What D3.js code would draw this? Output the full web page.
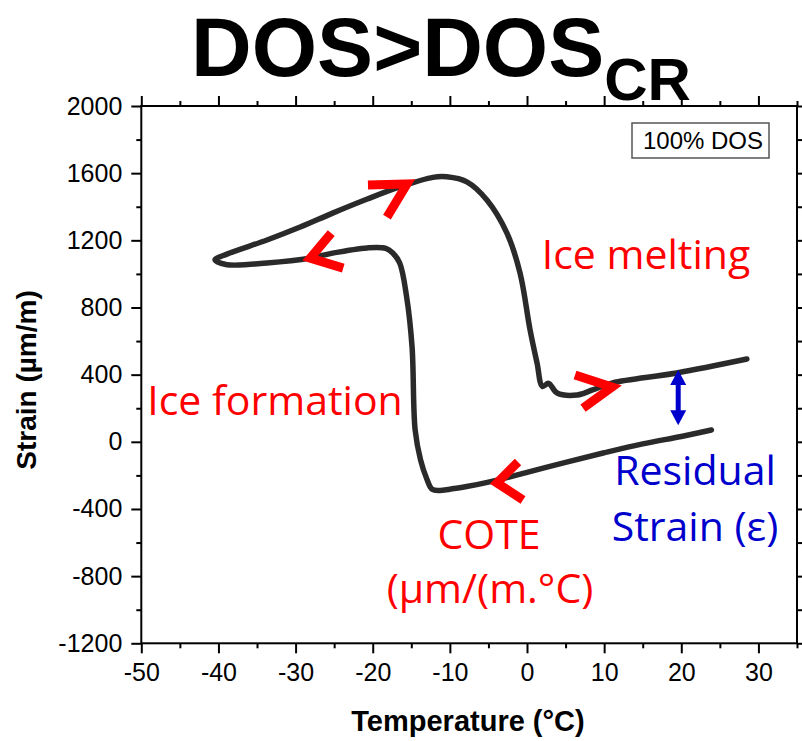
<!DOCTYPE html>
<html>
<head>
<meta charset="utf-8">
<script src="https://cdn.jsdelivr.net/npm/d3@7"></script>
<style>
  html, body { margin: 0; padding: 0; background: #fff; }
  svg { display: block; }
</style>
</head>
<body>
<svg id="chart" width="802" height="741"></svg>
<script>
// Freeze–thaw strain loop (temperature °C, strain µm/m), in measurement order:
// cooling from room temperature, ice formation, down to -40 °C, then heating and ice melting.
const temperature = [
  23.9, 20.0, 15.0, 10.0, 5.0, 0.0, -5.0, -8.0, -10.0, -11.3, -12.3, -13.0, -13.8, -14.5,
  -14.9, -15.6, -16.5, -17.4, -18.3, -20.7, -25.2, -28.1, -33.7, -38.9, -40.45,
  -38.9, -33.7, -29.4, -25.2, -20.7, -16.5, -12.2, -10.4, -7.8, -5.2, -2.6, -0.9,
  0.4, 1.3, 2.0, 2.8, 3.9, 6.5, 8.5, 11.1, 19.4, 28.5
];
const strain = [
  70, 32, -12, -65, -122, -182, -240, -268, -282, -290, -283, -220, -108, 70,
  565, 862, 1065, 1125, 1152, 1155, 1124, 1094, 1065, 1055, 1083,
  1118, 1202, 1279, 1362, 1446, 1518, 1575, 1578, 1548, 1440, 1243, 1005,
  666, 470, 330, 348, 291, 279, 309, 351, 410, 493
];

const xTicks = [-50, -40, -30, -20, -10, 0, 10, 20, 30];
const xMinor = [-45, -35, -25, -15, -5, 5, 15, 25, 35];
const yTicks = [-1200, -800, -400, 0, 400, 800, 1200, 1600, 2000];
const yMinor = [-1000, -600, -200, 200, 600, 1000, 1400, 1800];

const svg = d3.select("#chart");
const x = d3.scaleLinear().domain([-50, 35]).range([141.3, 797]);
const y = d3.scaleLinear().domain([-1200, 2000]).range([643.3, 106]);

const sans = "'Liberation Sans', Arial, sans-serif";
const label = "'Open Sans', sans-serif";

// Title
svg.append("text")
  .attr("x", 441).attr("y", 76)
  .attr("text-anchor", "middle")
  .attr("font-family", sans).attr("font-weight", "bold")
  .attr("font-size", 84)
  .call(t => {
    t.append("tspan").text("DOS>DOS");
    t.append("tspan").attr("font-size", 60).attr("dy", 24).text("CR");
  });

// Axes: labelled major ticks, unlabelled minor ticks, mirrored on top/right
function styleAxis(g) {
  g.select(".domain").remove();
  g.selectAll(".tick line").attr("stroke", "#000").attr("stroke-width", 2);
  g.selectAll(".tick text").attr("font-family", sans).attr("font-size", 25).attr("fill", "#000");
}
const fmt = d => String(d);
const h0 = y.range()[0], h1 = y.range()[1];
const w0 = x.range()[0], w1 = x.range()[1];

svg.append("g").attr("transform", `translate(0,${h0})`)
  .call(d3.axisBottom(x).tickValues(xTicks).tickSize(10).tickPadding(10).tickFormat(fmt)).call(styleAxis);
svg.append("g").attr("transform", `translate(0,${h0})`)
  .call(d3.axisBottom(x).tickValues(xMinor).tickSize(5).tickFormat("")).call(styleAxis);
svg.append("g").attr("transform", `translate(0,${h1})`)
  .call(d3.axisTop(x).tickValues(xTicks).tickSize(10).tickFormat("")).call(styleAxis);
svg.append("g").attr("transform", `translate(0,${h1})`)
  .call(d3.axisTop(x).tickValues(xMinor).tickSize(5).tickFormat("")).call(styleAxis);

svg.append("g").attr("transform", `translate(${w0},0)`)
  .call(d3.axisLeft(y).tickValues(yTicks).tickSize(10).tickPadding(9).tickFormat(fmt)).call(styleAxis);
svg.append("g").attr("transform", `translate(${w0},0)`)
  .call(d3.axisLeft(y).tickValues(yMinor).tickSize(5).tickFormat("")).call(styleAxis);
svg.append("g").attr("transform", `translate(${w1},0)`)
  .call(d3.axisRight(y).tickValues(yTicks).tickSize(10).tickFormat("")).call(styleAxis);
svg.append("g").attr("transform", `translate(${w1},0)`)
  .call(d3.axisRight(y).tickValues(yMinor).tickSize(5).tickFormat("")).call(styleAxis);

// Frame
svg.append("rect")
  .attr("x", w0).attr("y", h1).attr("width", w1 - w0).attr("height", h0 - h1)
  .attr("fill", "none").attr("stroke", "#000").attr("stroke-width", 2);

// Axis titles
svg.append("text")
  .attr("x", 468).attr("y", 731)
  .attr("text-anchor", "middle")
  .attr("font-family", sans).attr("font-weight", "bold").attr("font-size", 29)
  .text("Temperature (°C)");
svg.append("text")
  .attr("transform", "translate(36,380) rotate(-90)")
  .attr("text-anchor", "middle")
  .attr("font-family", sans).attr("font-weight", "bold").attr("font-size", 28)
  .text("Strain (µm/m)");

// Legend box
svg.append("rect")
  .attr("x", 632).attr("y", 123).attr("width", 137).attr("height", 35)
  .attr("fill", "#fff").attr("stroke", "#555").attr("stroke-width", 1.5);
svg.append("text")
  .attr("x", 703).attr("y", 149)
  .attr("text-anchor", "middle")
  .attr("font-family", sans).attr("font-size", 24)
  .text("100% DOS");

// Strain loop
const defs = svg.append("defs");
defs.append("filter").attr("id", "soft")
  .append("feGaussianBlur").attr("stdDeviation", 0.6);

const pts = temperature.map((t, i) => [t, strain[i]]);
const line = d3.line()
  .x(d => x(d[0])).y(d => y(d[1]))
  .curve(d3.curveCatmullRom.alpha(0.5));
svg.append("path")
  .datum(pts)
  .attr("d", line)
  .attr("fill", "none")
  .attr("stroke", "#2b2b2b")
  .attr("stroke-width", 5.5)
  .attr("stroke-linejoin", "round")
  .attr("stroke-linecap", "round")
  .attr("filter", "url(#soft)");

// Direction chevrons (tip on the curve, two arms in screen pixels)
const chevrons = [
  { t: -15.56, s: 1535, arms: [[-39, 1], [-20, 33]] },
  { t: -28.1,  s: 1094, arms: [[21, -25], [33, 10]] },
  { t: -3.89,  s: -245, arms: [[21, -21], [26, 17]] },
  { t: 11.02,  s: 326,  arms: [[-37, -12], [-29, 21]] }
];
chevrons.forEach(c => {
  const px = x(c.t), py = y(c.s);
  svg.append("path")
    .attr("d", `M${px + c.arms[0][0]},${py + c.arms[0][1]}L${px},${py}L${px + c.arms[1][0]},${py + c.arms[1][1]}`)
    .attr("fill", "none").attr("stroke", "#ff0000")
    .attr("stroke-width", 9).attr("stroke-linejoin", "miter").attr("stroke-miterlimit", 10);
});

// Residual strain double arrow at 20 °C between heating and cooling branches
const ax = x(19.6), aTop = y(428), aBot = y(98);
const blue = "#0000cc";
svg.append("line")
  .attr("x1", ax).attr("x2", ax).attr("y1", aTop + 10).attr("y2", aBot - 10)
  .attr("stroke", blue).attr("stroke-width", 5);
svg.append("path")
  .attr("d", `M${ax},${aTop}L${ax - 8},${aTop + 15}L${ax + 8},${aTop + 15}Z`)
  .attr("fill", blue);
svg.append("path")
  .attr("d", `M${ax},${aBot}L${ax - 8},${aBot - 15}L${ax + 8},${aBot - 15}Z`)
  .attr("fill", blue);

// Annotations
function note(txt, cx, by, color) {
  svg.append("text")
    .attr("x", cx).attr("y", by)
    .attr("text-anchor", "middle")
    .attr("font-family", label).attr("font-size", 41)
    .attr("fill", color)
    .text(txt);
}
note("Ice melting", 646, 269, "#ff0000");
note("Ice formation", 275, 415, "#ff0000");
note("COTE", 489, 549, "#ff0000");
note("(µm/(m.°C)", 490, 603, "#ff0000");
note("Residual", 695, 485, blue);
note("Strain (ε)", 695, 541, blue);
</script>
</body>
</html>
